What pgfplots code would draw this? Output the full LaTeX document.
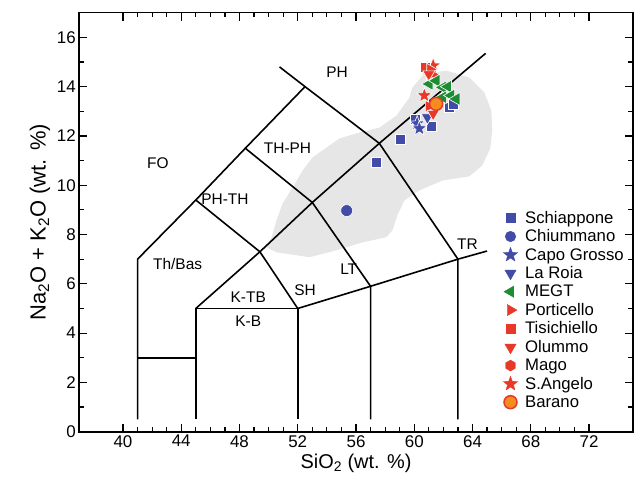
\documentclass[border=0pt]{standalone}
\usepackage{pgfplots}
\pgfplotsset{compat=1.18}
\usepackage{fontspec}
\setmainfont{Liberation Sans}
\definecolor{cblue}{RGB}{66,76,168}
\definecolor{cgreen}{RGB}{30,140,50}
\definecolor{cred}{RGB}{232,56,40}
\definecolor{corange}{RGB}{245,140,30}
\definecolor{cgray}{RGB}{230,230,230}
\pgfdeclareplotmark{fstar}{%
  \pgfpathmoveto{\pgfpointpolar{90}{\pgfplotmarksize}}%
  \pgfpathlineto{\pgfpointpolar{126}{0.42\pgfplotmarksize}}%
  \pgfpathlineto{\pgfpointpolar{162}{\pgfplotmarksize}}%
  \pgfpathlineto{\pgfpointpolar{198}{0.42\pgfplotmarksize}}%
  \pgfpathlineto{\pgfpointpolar{234}{\pgfplotmarksize}}%
  \pgfpathlineto{\pgfpointpolar{270}{0.42\pgfplotmarksize}}%
  \pgfpathlineto{\pgfpointpolar{306}{\pgfplotmarksize}}%
  \pgfpathlineto{\pgfpointpolar{342}{0.42\pgfplotmarksize}}%
  \pgfpathlineto{\pgfpointpolar{18}{\pgfplotmarksize}}%
  \pgfpathlineto{\pgfpointpolar{54}{0.42\pgfplotmarksize}}%
  \pgfpathclose\pgfusepathqfillstroke}
\pgfdeclareplotmark{fhex}{%
  \pgfpathmoveto{\pgfpointpolar{90}{\pgfplotmarksize}}%
  \pgfpathlineto{\pgfpointpolar{150}{\pgfplotmarksize}}%
  \pgfpathlineto{\pgfpointpolar{210}{\pgfplotmarksize}}%
  \pgfpathlineto{\pgfpointpolar{270}{\pgfplotmarksize}}%
  \pgfpathlineto{\pgfpointpolar{330}{\pgfplotmarksize}}%
  \pgfpathlineto{\pgfpointpolar{30}{\pgfplotmarksize}}%
  \pgfpathclose\pgfusepathqfillstroke}
\begin{document}
\begin{tikzpicture}
\begin{axis}[
  scale only axis, width=553.4bp, height=419bp,
  xmin=37, xmax=75, ymin=0, ymax=17,
  xtick={40,44,...,72}, ytick={0,2,...,16},
  minor x tick num=3, minor y tick num=1,
  tick align=inside, tick pos=both,
  major tick length=8bp, minor tick length=4.5bp,
  axis line style={line width=1.6bp},
  every tick/.style={black, line width=1.2bp},
  tick label style={font=\fontsize{17}{18}\selectfont},
  /pgf/number format/assume math mode=true,
  xlabel={SiO\textsubscript{2} (wt. \%)},
  ylabel={Na\textsubscript{2}O + K\textsubscript{2}O (wt. \%)},
  xlabel style={font=\fontsize{20}{22}\selectfont},
  ylabel style={font=\fontsize{22}{24}\selectfont},
  legend cell align=left,
  legend style={at={(axis cs:65.9,9.12)}, anchor=north west, draw=none, fill=none,
    font=\fontsize{16.8}{18}\selectfont, row sep=1bp,
    /tikz/every odd column/.append style={column sep=5.5bp}},
]
% gray field
\addplot[forget plot, fill=cgray, draw=none] coordinates {
(49.86,7.48) (50.54,7.28) (51.43,7.20) (52.80,7.08) (54.66,7.36) (56.44,7.68)
(58.08,7.89) (58.50,8.17) (58.84,8.78) (59.32,9.38) (60.35,9.79) (61.93,10.19)
(63.78,10.36) (64.67,10.80) (65.22,11.49) (65.36,12.22) (65.29,13.03) (64.81,13.76)
(63.78,14.37) (62.21,14.65) (60.69,14.53) (59.87,13.96) (59.66,13.55) (58.77,12.82)
(57.61,12.34) (56.24,12.14) (54.87,11.90) (53.98,11.53) (53.02,11.13) (52.33,10.60)
(51.65,9.91) (50.96,9.26) (50.54,8.57) (50.20,7.89) (49.86,7.48)};
% TAS boundaries
\addplot[forget plot, black, line width=1.6bp] coordinates {(41,0.5) (41,7) (45,9.4) (48.4,11.5) (52.5,14)};
\addplot[forget plot, black, line width=1.6bp] coordinates {(41,3) (45,3)};
\addplot[forget plot, black, line width=1.6bp] coordinates {(45,0.5) (45,5) (52,5) (52,0.5)};
\addplot[forget plot, black, line width=1.6bp] coordinates {(45,5) (49.4,7.3) (53,9.3) (57.6,11.7) (64.9,15.35)};
\addplot[forget plot, black, line width=1.6bp] coordinates {(45,9.4) (49.4,7.3) (52,5) (57,5.9) (63,7) (65,7.33)};
\addplot[forget plot, black, line width=1.6bp] coordinates {(48.4,11.5) (53,9.3) (57,5.9) (57,0.5)};
\addplot[forget plot, black, line width=1.6bp] coordinates {(50.75,14.8) (52.5,14) (57.6,11.7) (63,7) (63,0.5)};
% field labels
\begin{scope}[every node/.style={font=\fontsize{15.5}{17}\selectfont}]
\node at (axis cs:54.7,14.6) {PH};
\node at (axis cs:42.4,10.9) {FO};
\node at (axis cs:51.3,11.5) {TH-PH};
\node at (axis cs:47.0,9.45) {PH-TH};
\node at (axis cs:43.75,6.8) {Th/Bas};
\node at (axis cs:48.6,5.45) {K-TB};
\node at (axis cs:48.6,4.5) {K-B};
\node at (axis cs:52.5,5.75) {SH};
\node at (axis cs:55.5,6.6) {LT};
\node at (axis cs:63.65,7.6) {TR};
\end{scope}
% data
\addplot[forget plot, only marks, mark=square*, mark size=5bp, mark options={fill=cblue, draw=white, line width=0.6bp}] coordinates {
(57.42,10.91) (59.06,11.85) (60.05,12.69) (61.15,12.38) (62.41,13.16) (62.7,13.3)};
\addplot[forget plot, only marks, mark=*, mark size=6bp, mark options={fill=cblue, draw=white, line width=0.6bp}] coordinates {(55.36,8.97)};
\addplot[forget plot, only marks, mark=triangle*, mark size=7bp, mark options={rotate=180, fill=cblue, draw=white, line width=0.6bp}] coordinates {(60.9,12.75)};
\addplot[forget plot, only marks, mark=fstar, mark size=8bp, mark options={fill=cblue, draw=white, line width=0.6bp}] coordinates {(60.2,12.5) (60.35,12.3)};
\addplot[forget plot, only marks, mark=fstar, mark size=8bp, mark options={fill=cred, draw=white, line width=0.6bp}] coordinates {(60.69,13.64) (60.9,14.75) (61.3,14.85)};
\addplot[forget plot, only marks, mark=square*, mark size=5bp, mark options={fill=cred, draw=white, line width=0.6bp}] coordinates {(60.75,14.8) (61.2,14.45)};
\addplot[forget plot, only marks, mark=fhex, mark size=6bp, mark options={fill=cred, draw=white, line width=0.6bp}] coordinates {(61.3,14.4)};
\addplot[forget plot, only marks, mark=triangle*, mark size=7bp, mark options={rotate=-90, fill=cred, draw=white, line width=0.6bp}] coordinates {(61.1,14.7) (61.0,13.2)};
\addplot[forget plot, only marks, mark=triangle*, mark size=7bp, mark options={rotate=180, fill=cred, draw=white, line width=0.6bp}] coordinates {(61.0,14.5) (61.3,12.9)};
\addplot[forget plot, only marks, mark=triangle*, mark size=7.5bp, mark options={rotate=90, fill=cgreen, draw=white, line width=0.6bp}] coordinates {
(61.03,14.11) (61.5,14.24) (61.95,13.97) (62.3,14.0) (61.95,13.57) (62.52,13.64) (62.87,13.5)};
\addplot[forget plot, only marks, mark=*, mark size=6.5bp, mark options={fill=corange, draw=cred, line width=1.5bp}] coordinates {(61.5,13.3)};
% legend
\addlegendimage{only marks, mark=square*, mark size=4.5bp, cblue}
\addlegendentry{Schiappone}
\addlegendimage{only marks, mark=*, mark size=5.3bp, cblue}
\addlegendentry{Chiummano}
\addlegendimage{only marks, mark=fstar, mark size=7.5bp, cblue}
\addlegendentry{Capo Grosso}
\addlegendimage{only marks, mark=triangle*, mark size=6.5bp, mark options={rotate=180}, cblue}
\addlegendentry{La Roia}
\addlegendimage{only marks, mark=triangle*, mark size=6.5bp, mark options={rotate=90}, cgreen}
\addlegendentry{MEGT}
\addlegendimage{only marks, mark=triangle*, mark size=6.5bp, mark options={rotate=-90}, cred}
\addlegendentry{Porticello}
\addlegendimage{only marks, mark=square*, mark size=4.5bp, cred}
\addlegendentry{Tisichiello}
\addlegendimage{only marks, mark=triangle*, mark size=6.5bp, mark options={rotate=180}, cred}
\addlegendentry{Olummo}
\addlegendimage{only marks, mark=fhex, mark size=5.5bp, cred}
\addlegendentry{Mago}
\addlegendimage{only marks, mark=fstar, mark size=7.5bp, cred}
\addlegendentry{S.Angelo}
\addlegendimage{only marks, mark=*, mark size=6.5bp, mark options={fill=corange, draw=cred, line width=1.5bp}}
\addlegendentry{Barano}
\end{axis}
\useasboundingbox ([xshift=-79.3bp,yshift=-56.3bp]current axis.south west) rectangle ([xshift=5.3bp,yshift=12.7bp]current axis.north east);
\end{tikzpicture}
\end{document}
